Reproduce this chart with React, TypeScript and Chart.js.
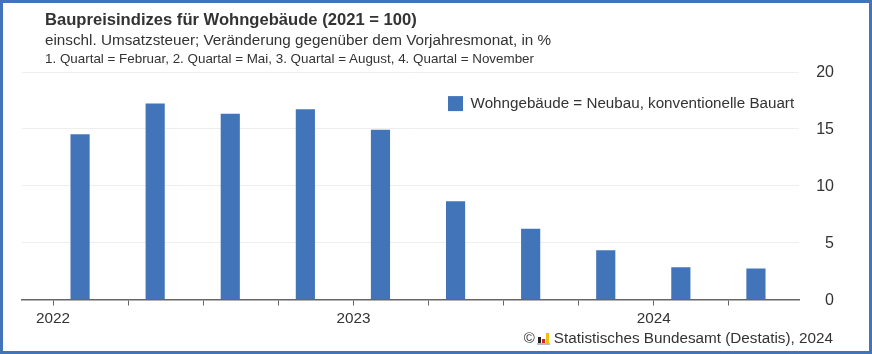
import React, { useEffect, useRef } from "react";
import { Chart, registerables } from "chart.js";

Chart.register(...registerables);

const monthOffsets = [1.08, 4.08, 7.08, 10.08, 13.08, 16.08, 19.08, 22.08, 25.08, 28.08];
const values = [14.5, 17.2, 16.3, 16.7, 14.9, 8.6, 6.2, 4.3, 2.8, 2.7];
const seriesName = "Wohngebäude = Neubau, konventionelle Bauart";
const yearTicks: Record<number, string> = { 0: "2022", 12: "2023", 24: "2024" };
const title = "Baupreisindizes für Wohngebäude (2021 = 100)";
const subtitle = "einschl. Umsatzsteuer; Veränderung gegenüber dem Vorjahresmonat, in %";
const note = "1. Quartal = Februar, 2. Quartal = Mai, 3. Quartal = August, 4. Quartal = November";
const source = "Statistisches Bundesamt (Destatis), 2024";

const FONT = '"Liberation Sans", Arial, sans-serif';
const INK = "#333333";
const BLUE = "#4174b9";

const placeLegend = {
  id: "placeLegend",
  afterLayout(chart: any) {
    const l = chart.legend;
    l.left = 438;
    l.right = 810;
    l.top = 86;
    l.bottom = 124;
  },
};

export default function App() {
  const ref = useRef<HTMLCanvasElement>(null);
  useEffect(() => {
    const chart = new Chart(ref.current!, {
      type: "bar",
      data: {
        datasets: [
          {
            label: seriesName,
            data: monthOffsets.map((x, i) => ({ x, y: values[i] })),
            backgroundColor: BLUE,
            barThickness: 18.5,
          },
        ],
      },
      plugins: [placeLegend],
      options: {
        responsive: false,
        animation: false,
        layout: { padding: { left: 22, right: 38, top: 72, bottom: 14.5 } },
        plugins: {
          tooltip: { enabled: false },
          legend: {
            position: "chartArea",
            align: "start",
            labels: {
              boxWidth: 15,
              boxHeight: 15,
              padding: 10,
              color: INK,
              font: { family: FONT, size: 15.2 },
            },
          },
        },
        scales: {
          x: {
            type: "linear",
            offset: false,
            min: -1.24,
            max: 29.8,
            afterFit: (s: any) => { s.height = 40; },
            border: { color: "#666666", width: 1.5 },
            grid: { offset: false, drawOnChartArea: false, color: "#666666", tickLength: 6, tickWidth: 1 },
            ticks: {
              stepSize: 3,
              includeBounds: false,
              autoSkip: false,
              maxRotation: 0,
              padding: 4,
              color: INK,
              font: { family: FONT, size: 15.3 },
              callback: (v: any) => yearTicks[v] ?? "",
            },
          },
          y: {
            position: "right",
            min: 0,
            max: 20,
            afterFit: (s: any) => { s.width = 35; },
            border: { display: false },
            grid: { color: "#eeeeee", drawTicks: false },
            ticks: {
              stepSize: 5,
              crossAlign: "far",
              labelOffset: 1,
              color: INK,
              font: { family: FONT, size: 16 },
            },
          },
        },
      },
    } as any);
    return () => chart.destroy();
  }, []);

  const text = (top: number, size: number, weight: number, content: string) => (
    <div
      style={{
        position: "absolute",
        left: 45,
        top,
        fontSize: size,
        fontWeight: weight,
        lineHeight: `${Math.round(size + 4)}px`,
        color: INK,
        whiteSpace: "nowrap",
      }}
    >
      {content}
    </div>
  );

  return (
    <div
      style={{
        position: "absolute",
        left: 0,
        top: 0,
        width: 872,
        height: 354,
        background: "#fff",
        fontFamily: FONT,
        overflow: "hidden",
      }}
    >
      <canvas ref={ref} width={872} height={354} style={{ position: "absolute", left: 0, top: 0, display: "block" }} />
      <div style={{ position: "absolute", inset: 0, border: `3px solid ${BLUE}`, boxSizing: "border-box", pointerEvents: "none" }} />
      {text(9, 16.6, 700, title)}
      {text(30, 15.25, 400, subtitle)}
      {text(50, 13.4, 400, note)}
      <div
        style={{
          position: "absolute",
          right: 39,
          top: 329,
          fontSize: 15.27,
          lineHeight: "18px",
          color: INK,
          whiteSpace: "nowrap",
          display: "flex",
          alignItems: "center",
        }}
      >
        <span style={{ marginRight: 2, fontSize: 15 }}>©</span>
        <span style={{ position: "relative", display: "inline-block", width: 13, height: 13, marginRight: 4, borderBottom: "2px solid #bbb", boxSizing: "border-box" }}>
          <i style={{ position: "absolute", left: 1, bottom: 0, width: 3, height: 6, background: "#222" }} />
          <i style={{ position: "absolute", left: 5, bottom: 0, width: 3, height: 4, background: "#d8232a" }} />
          <i style={{ position: "absolute", left: 9, bottom: 0, width: 3, height: 10, background: "#f2c200" }} />
        </span>
        {source}
      </div>
    </div>
  );
}
